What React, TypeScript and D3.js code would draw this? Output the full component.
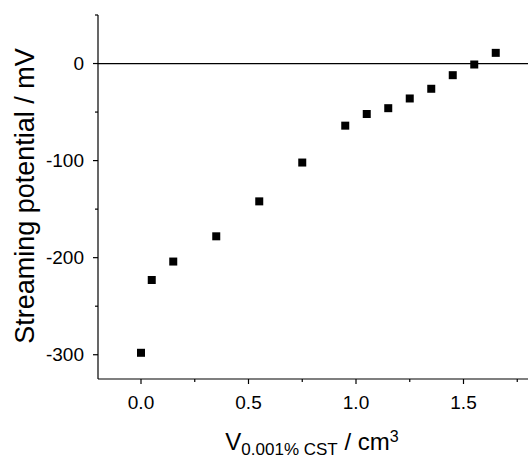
import React from "react";
import * as d3 from "d3";

const volumes = [0.0, 0.05, 0.15, 0.35, 0.55, 0.75, 0.95, 1.05, 1.15, 1.25, 1.35, 1.45, 1.55, 1.65];
const potentials = [-298, -223, -204, -178, -142, -102, -64, -52, -46, -36, -26, -12, -1, 11];
const xMajorTicks = [0, 0.5, 1.0, 1.5];
const xMinorTicks = [0.25, 0.75, 1.25, 1.75];
const yMajorTicks = [0, -100, -200, -300];
const yMinorTicks = [50, -50, -150, -250];

const W = 529;
const H = 465;
const FONT = "'Liberation Sans', Arial, sans-serif";

export default function App() {
  const x = d3.scaleLinear().domain([-0.2, 1.8]).range([98, 528]);
  const y = d3.scaleLinear().domain([-325, 50]).range([379, 15]);
  const fmtX = d3.format(".1f");
  const [x0, x1] = x.range();
  const [y0, y1] = y.range();
  const data = volumes.map((v, i) => ({ v, p: potentials[i] }));
  const s = 8;

  return (
    <svg
      width={W}
      height={H}
      style={{ position: "absolute", left: 0, top: 0, background: "#fff" }}
      fontFamily={FONT}
    >
      <rect x={0} y={0} width={W} height={H} fill="#fff" />
      {/* zero line */}
      <line x1={x0} x2={x1} y1={y(0)} y2={y(0)} stroke="#000" strokeWidth={1.2} />
      {/* axes */}
      <line x1={x0} x2={x1} y1={y0} y2={y0} stroke="#000" strokeWidth={1.2} />
      <line x1={x0} x2={x0} y1={y0} y2={y1} stroke="#000" strokeWidth={1.2} />
      {xMajorTicks.map((t) => (
        <g key={"xM" + t}>
          <line x1={x(t)} x2={x(t)} y1={y0} y2={y0 + 5} stroke="#000" strokeWidth={1.2} />
          <text x={x(t)} y={409} textAnchor="middle" fontSize={19} fill="#000">
            {fmtX(t)}
          </text>
        </g>
      ))}
      {xMinorTicks.map((t) => (
        <line key={"xm" + t} x1={x(t)} x2={x(t)} y1={y0} y2={y0 + 3} stroke="#000" strokeWidth={1.2} />
      ))}
      {yMajorTicks.map((t) => (
        <g key={"yM" + t}>
          <line x1={x0} x2={x0 - 5} y1={y(t)} y2={y(t)} stroke="#000" strokeWidth={1.2} />
          <text x={84} y={y(t)} dy="0.35em" textAnchor="end" fontSize={19} fill="#000">
            {t}
          </text>
        </g>
      ))}
      {yMinorTicks.map((t) => (
        <line key={"ym" + t} x1={x0} x2={x0 - 3} y1={y(t)} y2={y(t)} stroke="#000" strokeWidth={1.2} />
      ))}
      {/* points */}
      {data.map((d, i) => (
        <rect key={i} x={x(d.v) - s / 2} y={y(d.p) - s / 2} width={s} height={s} fill="#000" />
      ))}
      {/* y title */}
      <text
        transform={`translate(34, 196) rotate(-90)`}
        textAnchor="middle"
        fontSize={27}
        fill="#000"
      >
        Streaming potential / mV
      </text>
      {/* x title */}
      <text x={312} y={450} textAnchor="middle" fontSize={24} fill="#000">
        <tspan>V</tspan>
        <tspan fontSize={17} dy={5}>0.001% CST</tspan>
        <tspan dy={-5}> / cm</tspan>
        <tspan fontSize={16} dy={-8.5}>3</tspan>
      </text>
    </svg>
  );
}
